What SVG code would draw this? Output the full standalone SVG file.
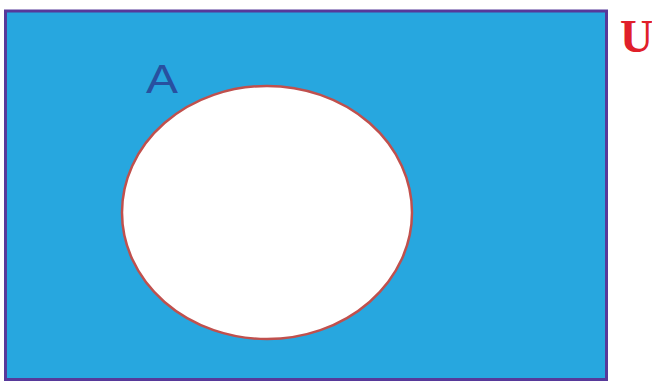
<svg xmlns="http://www.w3.org/2000/svg" width="652" height="382" viewBox="0 0 652 382">
<style>
.lbl{font-family:"Liberation Sans",Arial,sans-serif}
</style>
<rect width="652" height="382" fill="#ffffff"/>
<g id="universe">
<rect x="5.5" y="11" width="601" height="368.5" fill="#27a7df" stroke="#57399a" stroke-width="3"/>
<text x="620" y="52" font-family="'Liberation Serif','Times New Roman',serif" font-weight="bold" font-size="46" fill="#e0202a">U</text>
</g>
<g id="setA">
<ellipse cx="267" cy="212.5" rx="145" ry="126.5" fill="#ffffff" stroke="#c0504d" stroke-width="2.5"/>
<text class="lbl" x="146" y="93" font-size="40" fill="#2850a0" textLength="32" lengthAdjust="spacingAndGlyphs">A</text>
</g>
</svg>
